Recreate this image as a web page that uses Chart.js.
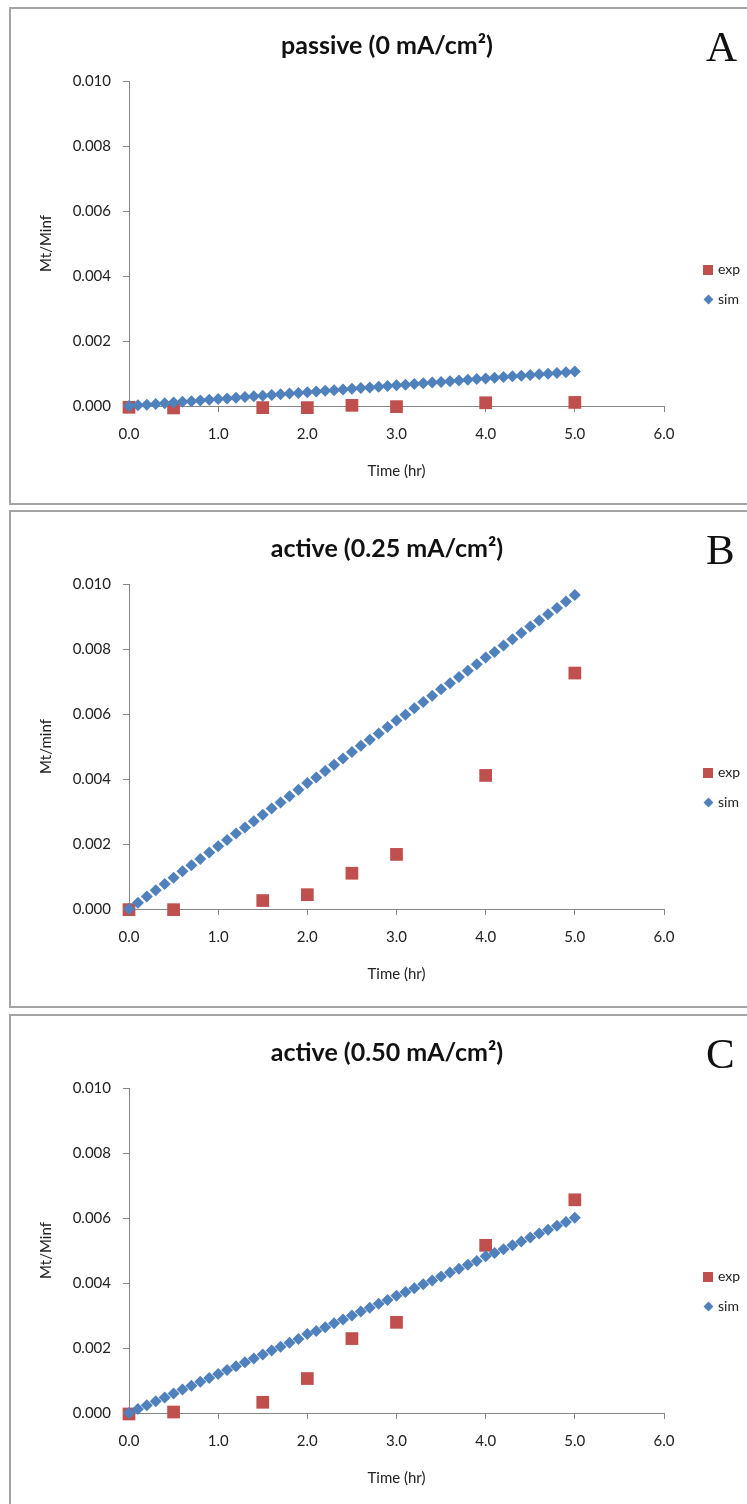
<!DOCTYPE html>
<html>
<head>
<meta charset="utf-8">
<script src="https://cdn.jsdelivr.net/npm/chart.js@4.4.1/dist/chart.umd.min.js"></script>
<style>
  body { margin: 0; background: #fff; width: 747px; height: 1504px; position: relative; overflow: hidden; font-family: Lato, "Open Sans", sans-serif; }
  .panel { position: absolute; left: 9px; width: 760px; height: 494px; border: 2px solid #a3a3a3; }
  .panel canvas { position: absolute; left: 0; top: 0; }
  .title { position: absolute; left: 0; width: 752px; text-align: center; font-weight: bold; font-size: 25px; color: #111; }
  .letter { position: absolute; left: 695px; font-family: "Liberation Serif", serif; font-size: 43px; color: #111; }
  .leg { position: absolute; left: 692px; font-size: 14px; color: #222; }
  .leg .sq { display: inline-block; width: 10px; height: 10px; background: #C0504D; margin-right: 5px; vertical-align: -1px; }
  .leg .dm { display: inline-block; width: 7px; height: 7px; background: #4F81BD; transform: rotate(45deg); margin: 0 6px 0 2px; vertical-align: 1px; }
</style>
</head>
<body>
<div class="panel" style="top:7px"><canvas id="chartA" width="736" height="494"></canvas>
  <div class="title" style="top:20px">passive (0 mA/cm²)</div>
  <div class="letter" style="top:13px">A</div>
  <div class="leg" style="top:251px"><span class="sq"></span>exp</div>
  <div class="leg" style="top:281px"><span class="dm"></span>sim</div>
</div>
<div class="panel" style="top:510px"><canvas id="chartB" width="736" height="494"></canvas>
  <div class="title" style="top:20px">active (0.25 mA/cm²)</div>
  <div class="letter" style="top:13px">B</div>
  <div class="leg" style="top:251px"><span class="sq"></span>exp</div>
  <div class="leg" style="top:281px"><span class="dm"></span>sim</div>
</div>
<div class="panel" style="top:1014px"><canvas id="chartC" width="736" height="494"></canvas>
  <div class="title" style="top:20px">active (0.50 mA/cm²)</div>
  <div class="letter" style="top:13px">C</div>
  <div class="leg" style="top:251px"><span class="sq"></span>exp</div>
  <div class="leg" style="top:281px"><span class="dm"></span>sim</div>
</div>
<script>
// experimental sampling times (hr)
const expTime = [0, 0.5, 1.5, 2.0, 2.5, 3.0, 4.0, 5.0];
// simulation output times (hr)
const simTime = [0.0, 0.1, 0.2, 0.3, 0.4, 0.5, 0.6, 0.7, 0.8, 0.9,
  1.0, 1.1, 1.2, 1.3, 1.4, 1.5, 1.6, 1.7, 1.8, 1.9,
  2.0, 2.1, 2.2, 2.3, 2.4, 2.5, 2.6, 2.7, 2.8, 2.9,
  3.0, 3.1, 3.2, 3.3, 3.4, 3.5, 3.6, 3.7, 3.8, 3.9,
  4.0, 4.1, 4.2, 4.3, 4.4, 4.5, 4.6, 4.7, 4.8, 4.9, 5.0];

// A: passive (0 mA/cm2)
const expA = [-0.00004, -0.00006, -0.00005, -0.00005, 0.00002, -0.00002, 0.00010, 0.00011];
const simA = [0, 0.000021, 0.000042, 0.000064, 0.000085, 0.000106, 0.000127, 0.000148, 0.000170, 0.000191,
  0.000212, 0.000233, 0.000254, 0.000276, 0.000297, 0.000318, 0.000339, 0.000360, 0.000382, 0.000403,
  0.000424, 0.000445, 0.000466, 0.000488, 0.000509, 0.000530, 0.000551, 0.000572, 0.000594, 0.000615,
  0.000636, 0.000657, 0.000678, 0.000700, 0.000721, 0.000742, 0.000763, 0.000784, 0.000806, 0.000827,
  0.000848, 0.000869, 0.000890, 0.000912, 0.000933, 0.000954, 0.000975, 0.000996, 0.001018, 0.001039, 0.001060];

// B: active (0.25 mA/cm2)
const expB = [-0.00002, -0.00002, 0.00026, 0.00044, 0.00110, 0.00168, 0.00411, 0.00726];
const simB = [0, 0.000193, 0.000386, 0.000579, 0.000772, 0.000965, 0.00116, 0.00135, 0.00154, 0.00174,
  0.00193, 0.00212, 0.00232, 0.00251, 0.00270, 0.00290, 0.00309, 0.00328, 0.00347, 0.00367,
  0.00388, 0.00405, 0.00425, 0.00444, 0.00463, 0.00483, 0.00502, 0.00521, 0.00540, 0.00560,
  0.00580, 0.00598, 0.00618, 0.00637, 0.00656, 0.00676, 0.00695, 0.00714, 0.00733, 0.00753,
  0.00774, 0.00791, 0.00811, 0.00830, 0.00849, 0.00869, 0.00888, 0.00907, 0.00926, 0.00946, 0.00966];

// C: active (0.50 mA/cm2)
const expC = [-0.00003, 0.00003, 0.00033, 0.00106, 0.00229, 0.00279, 0.00516, 0.00656];
const simC = [0, 0.00012, 0.00024, 0.00036, 0.00048, 0.00060, 0.00072, 0.00084, 0.00096, 0.00108,
  0.00120, 0.00132, 0.00144, 0.00156, 0.00168, 0.00180, 0.00192, 0.00204, 0.00216, 0.00228,
  0.00243, 0.00252, 0.00264, 0.00276, 0.00288, 0.00300, 0.00312, 0.00324, 0.00336, 0.00348,
  0.00361, 0.00372, 0.00384, 0.00396, 0.00408, 0.00420, 0.00432, 0.00444, 0.00456, 0.00468,
  0.00482, 0.00492, 0.00504, 0.00516, 0.00528, 0.00540, 0.00552, 0.00564, 0.00576, 0.00588, 0.00601];

const xTicks = [0, 1, 2, 3, 4, 5, 6];
const yTicks = [0, 0.002, 0.004, 0.006, 0.008, 0.010];

const axisColor = '#868686';
const tickFont = { family: 'Lato', size: 15 };

function pts(xs, ys) {
  return xs.map((x, i) => ({ x: x, y: ys[i] }));
}

function makeChart(id, yLabel, exp, sim) {
  const ctx = document.getElementById(id).getContext('2d');
  return new Chart(ctx, {
    type: 'scatter',
    data: {
      datasets: [
        {
          label: 'sim',
          data: pts(simTime, sim),
          pointStyle: 'rectRot',
          pointRadius: 6,
          backgroundColor: '#4F81BD',
          borderColor: '#4F81BD',
          borderWidth: 0,
          clip: false
        },
        {
          label: 'exp',
          data: pts(expTime, exp),
          pointStyle: 'rect',
          pointRadius: 9,
          backgroundColor: '#C0504D',
          borderColor: '#C0504D',
          borderWidth: 0,
          clip: false
        }
      ]
    },
    options: {
      responsive: false,
      animation: false,
      events: [],
      layout: { padding: { top: 72, right: 83, left: 0, bottom: 0 } },
      plugins: { legend: { display: false }, tooltip: { enabled: false } },
      scales: {
        x: {
          type: 'linear',
          min: 0, max: 6,
          afterBuildTicks: s => { s.ticks = xTicks.map(v => ({ value: v })); },
          afterFit: s => { s.height = 97; },
          border: { color: axisColor, width: 1 },
          grid: { drawOnChartArea: false, drawTicks: true, tickLength: 6, color: axisColor },
          ticks: { color: '#222', font: tickFont, padding: 13, maxRotation: 0,
                   callback: v => v.toFixed(1) },
          title: { display: true, text: 'Time (hr)', color: '#222',
                   font: { family: 'Lato', size: 15 }, padding: { top: 0, bottom: 23 } }
        },
        y: {
          type: 'linear',
          min: 0, max: 0.010,
          afterBuildTicks: s => { s.ticks = yTicks.map(v => ({ value: v })); },
          afterFit: s => { s.width = 118; },
          border: { color: axisColor, width: 1 },
          grid: { drawOnChartArea: false, drawTicks: true, tickLength: 6, color: axisColor },
          ticks: { color: '#222', font: tickFont, padding: 12,
                   callback: v => v.toFixed(3) },
          title: { display: true, text: yLabel, color: '#222',
                   font: { family: 'Lato', size: 15 }, padding: { top: 26, bottom: 0 } }
        }
      }
    }
  });
}

makeChart('chartA', 'Mt/Minf', expA, simA);
makeChart('chartB', 'Mt/minf', expB, simB);
makeChart('chartC', 'Mt/Minf', expC, simC);
</script>
</body>
</html>
